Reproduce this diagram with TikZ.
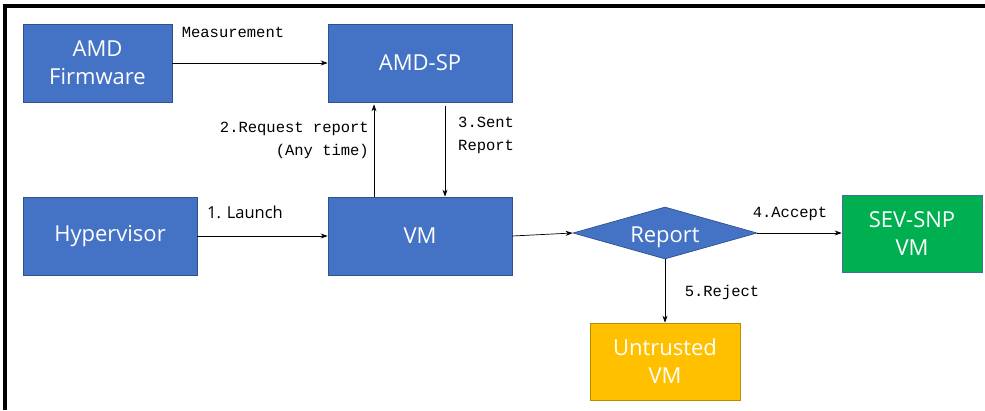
\documentclass[tikz,border=0pt]{standalone}
\usepackage{fontspec}
\setmainfont{Open Sans}
\setmonofont{Liberation Mono}
\usepackage{xcolor}
\usepackage{tikz}
\usetikzlibrary{positioning,shapes,arrows.meta}

\definecolor{boxblue}{HTML}{4472C4}
\definecolor{boxedge}{HTML}{2F528F}
\definecolor{boxgreen}{HTML}{00B050}
\definecolor{greenedge}{HTML}{41719C}
\definecolor{boxyellow}{HTML}{FFC000}
\definecolor{yellowedge}{HTML}{BC8C00}

\begin{document}
\begin{tikzpicture}[
    x=1pt, y=-1pt,
    box/.style={rectangle, draw=boxedge, line width=0.7pt, text=white, align=center, font=\fontsize{22}{28}\selectfont, inner sep=2pt},
    box_blue/.style={box, fill=boxblue, minimum width=184pt, minimum height=78pt},
    box_green/.style={box, draw=greenedge, fill=boxgreen, minimum width=140pt, minimum height=77pt},
    box_yellow/.style={box, draw=yellowedge, fill=boxyellow, minimum width=150pt, minimum height=77pt},
    decision/.style={diamond, draw=boxedge, line width=0.7pt, fill=boxblue, text=white, inner sep=0pt, aspect=3.5, minimum width=184pt, minimum height=52pt, text height=24pt, text depth=6pt, font=\fontsize{22}{26}\selectfont},
    arrow/.style={-{Stealth[length=7pt,width=5pt]}, line width=0.7pt},
    tag/.style={font=\ttfamily\fontsize{15.5}{23}\selectfont, inner sep=0pt},
    tag_sans/.style={font=\fontsize{16.5}{20}\selectfont, inner sep=0pt},
]
\useasboundingbox (0,0) rectangle (985,410);
% frame (top and left edge only)
\draw[line width=4pt] (4.5,410) -- (4.5,5.5) -- (985,5.5);
% Row 1
\node[box_blue, minimum width=149pt] (fw) at (97.5,63) {AMD\\Firmware};
\node[box_blue] (sp) at (420,63) {AMD-SP};
% Row 2
\node[box_blue, minimum width=174pt] (hv) at (110,236) {Hypervisor};
\node[box_blue] (vm) at (420,236) {VM};
\node[decision] (rep) at (665,233) {Report};
\node[box_green] (sev) at (912,233.5) {SEV-SNP\\VM};
% Row 3
\node[box_yellow] (unt) at (665,361.5) {Untrusted\\VM};
% connectors
\draw[arrow] (fw) -- (sp);
\draw[arrow, shorten >=2pt] ([xshift=-46pt]vm.north) -- ([xshift=-46pt]sp.south);
\draw[arrow, shorten <=4pt] ([xshift=25pt]sp.south) -- ([xshift=25pt]vm.north);
\draw[arrow] (hv) -- (vm);
\draw[arrow] (vm.east) -- (rep.west);
\draw[arrow] (rep.east) -- (sev.west |- rep.east);
\draw[arrow] (rep.south) -- (unt.north);
% labels
\node[tag] (lmeas) at (233,32) {Measurement};
\node[tag, align=right, anchor=east] (lreq) at (369,140) {2.Request report\\(Any time)};
\node[tag, align=left, anchor=west] (lsent) at (458,135) {3.Sent\\Report};
\node[tag_sans] (llaunch) at (245,212) {1. Launch};
\node[tag] (lacc) at (790,214) {4.Accept};
\node[tag] (lrej) at (722,292) {5.Reject};
\end{tikzpicture}
\end{document}
